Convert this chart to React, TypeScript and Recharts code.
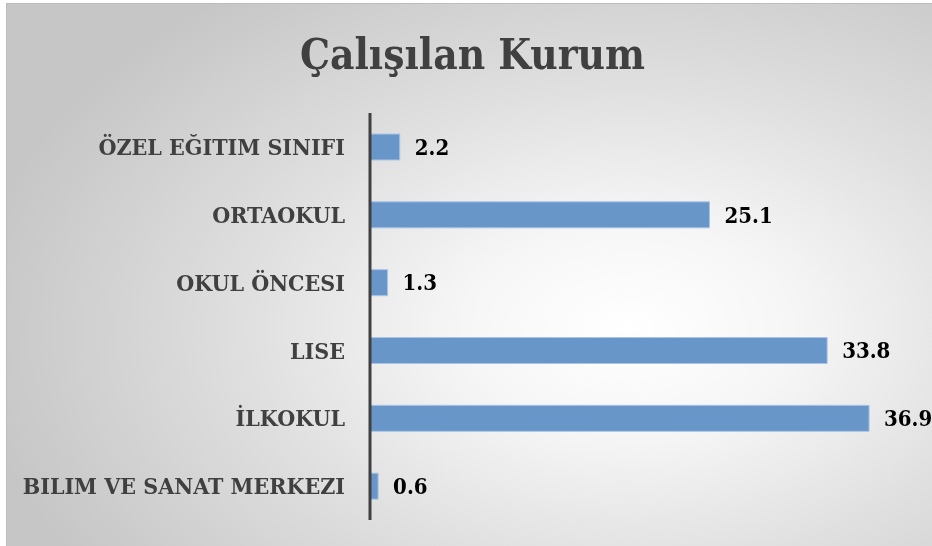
import { BarChart, Bar, XAxis, YAxis, LabelList } from 'recharts';

const categories = [
  'ÖZEL EĞITIM SINIFI',
  'ORTAOKUL',
  'OKUL ÖNCESI',
  'LISE',
  'İLKOKUL',
  'BILIM VE SANAT MERKEZI',
];
const percentages = [2.2, 25.1, 1.3, 33.8, 36.9, 0.6];

const data = categories.map((name, i) => ({ name, value: percentages[i] }));

const FONT = "'DejaVu Serif Condensed', 'DejaVu Serif', serif";

export default function App() {
  return (
    <div style={{ position: 'fixed', left: 0, top: 0, width: 932, height: 546, overflow: 'hidden' }}>
      <div
        style={{
          position: 'absolute',
          left: 6,
          top: 3,
          width: 940,
          height: 560,
          border: '1px solid #bdbdbd',
          background:
            'radial-gradient(ellipse 70% 75% at 66% 58%, #ffffff 0%, #f6f6f6 25%, #dedede 60%, #c6c6c6 100%)',
        }}
      />
      <div
        style={{
          position: 'absolute',
          left: 0,
          width: 945,
          top: 30,
          textAlign: 'center',
          fontFamily: FONT,
          fontStretch: 'condensed',
          fontWeight: 'bold',
          fontSize: 42,
          color: '#404040',
        }}
      >
        Çalışılan Kurum
      </div>
      <div style={{ position: 'absolute', left: 0, top: 0 }}>
        <BarChart
          width={932}
          height={546}
          data={data}
          layout="vertical"
          margin={{ top: 113, right: 21, bottom: 26, left: 0 }}
          barSize={26}
        >
          <XAxis type="number" domain={[0, 40]} hide />
          <YAxis
            dataKey="name"
            type="category"
            width={370}
            tickLine={false}
            tickSize={0}
            tickMargin={25}
            axisLine={{ stroke: '#404040', strokeWidth: 3 }}
            tick={{ fontSize: 23, fontWeight: 'bold', fill: '#404040', fontFamily: FONT, fontStretch: 'condensed' }}
          />
          <Bar dataKey="value" fill="#6896c8" stroke="#a9c4e4" strokeWidth={1} isAnimationActive={false}>
            <LabelList
              dataKey="value"
              position="right"
              offset={15}
              style={{ fontSize: 22, fontWeight: 'bold', fill: '#000', fontFamily: FONT, fontStretch: 'condensed' }}
            />
          </Bar>
        </BarChart>
      </div>
    </div>
  );
}
